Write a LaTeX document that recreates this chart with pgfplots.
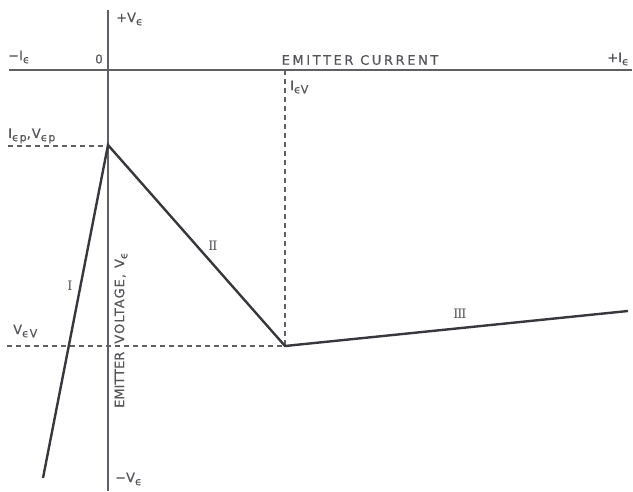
\documentclass[border=0pt]{standalone}
\usepackage{pgfplots}
\pgfplotsset{compat=1.18}
\usepackage{fontspec}
\setmainfont[FakeBold=0.4]{DejaVu Sans}
\newfontfamily\lettering[LetterSpace=20,FakeBold=0.4]{DejaVu Sans}
\newfontfamily\spaced[LetterSpace=8,FakeBold=0.4]{DejaVu Sans}
\newfontfamily\serifI{DejaVu Serif}
\definecolor{ink}{RGB}{55,55,60}
\definecolor{axisgray}{RGB}{95,95,100}
\definecolor{txt}{RGB}{85,85,90}
% lowered subscript in lettering style
\newcommand\sub[1]{\raisebox{-0.45ex}{\fontsize{11}{11}\selectfont #1}}
\newcommand\eps{\sub{ϵ}}
\newcommand\romI{{\serifI I}}
\tikzset{lbl/.style={text=txt, inner sep=0pt, font=\fontsize{13}{13}\selectfont}}
\begin{document}
\begin{tikzpicture}
\begin{axis}[
  x=1pt, y=1pt,
  xmin=0, xmax=633, ymin=0, ymax=491,
  y dir=reverse,
  hide axis,
  clip=false,
]
\path (axis cs:0,0) rectangle (axis cs:633,491);
% axes
\addplot[axisgray, line width=1.6pt] coordinates {(9,70) (632,70)};
\addplot[axisgray, line width=1.6pt] coordinates {(108,10) (108,491)};
% dashed guide lines
\addplot[axisgray, line width=1.2pt, dash pattern=on 5pt off 4pt] coordinates {(8,146) (108,146)};
\addplot[axisgray, line width=1.2pt, dash pattern=on 5pt off 4pt] coordinates {(7,346) (285,346)};
\addplot[axisgray, line width=1.2pt, dash pattern=on 5pt off 4pt] coordinates {(285,70) (285,346)};
% emitter characteristic
\addplot[ink, line width=2.4pt, line join=miter] coordinates {(43,478) (108,145) (285,346) (628,311)};
% labels
\node[lbl, anchor=west] at (axis cs:116,19) {+V\eps};
\node[lbl, anchor=west] at (axis cs:8,57) {−I\eps};
\node[lbl] at (axis cs:99,59) {\fontsize{12}{12}\selectfont 0};
\node[lbl] at (axis cs:360,60) {\lettering EMITTER CURRENT};
\node[lbl, anchor=east] at (axis cs:629,59) {+I\eps};
\node[lbl, anchor=west] at (axis cs:290,87) {I\sub{ϵV}};
\node[lbl, anchor=west] at (axis cs:8,136) {\spaced I\sub{ϵp},V\sub{ϵp}};
\node[lbl, anchor=west] at (axis cs:13,331) {\spaced V\sub{ϵV}};
\node[lbl, anchor=west] at (axis cs:115,479) {−V\eps};
\node[lbl, rotate=90, anchor=west] at (axis cs:121,408) {EMITTER\hspace{8pt}{\spaced VOLTAGE,\hspace{6pt}V\eps}};
\node[lbl] at (axis cs:70,286) {\romI};
\node[lbl] at (axis cs:213,246) {\romI\kern-1.2pt\romI};
\node[lbl] at (axis cs:460,314) {\romI\kern-1.2pt\romI\kern-1.2pt\romI};
\end{axis}
\end{tikzpicture}
\end{document}
